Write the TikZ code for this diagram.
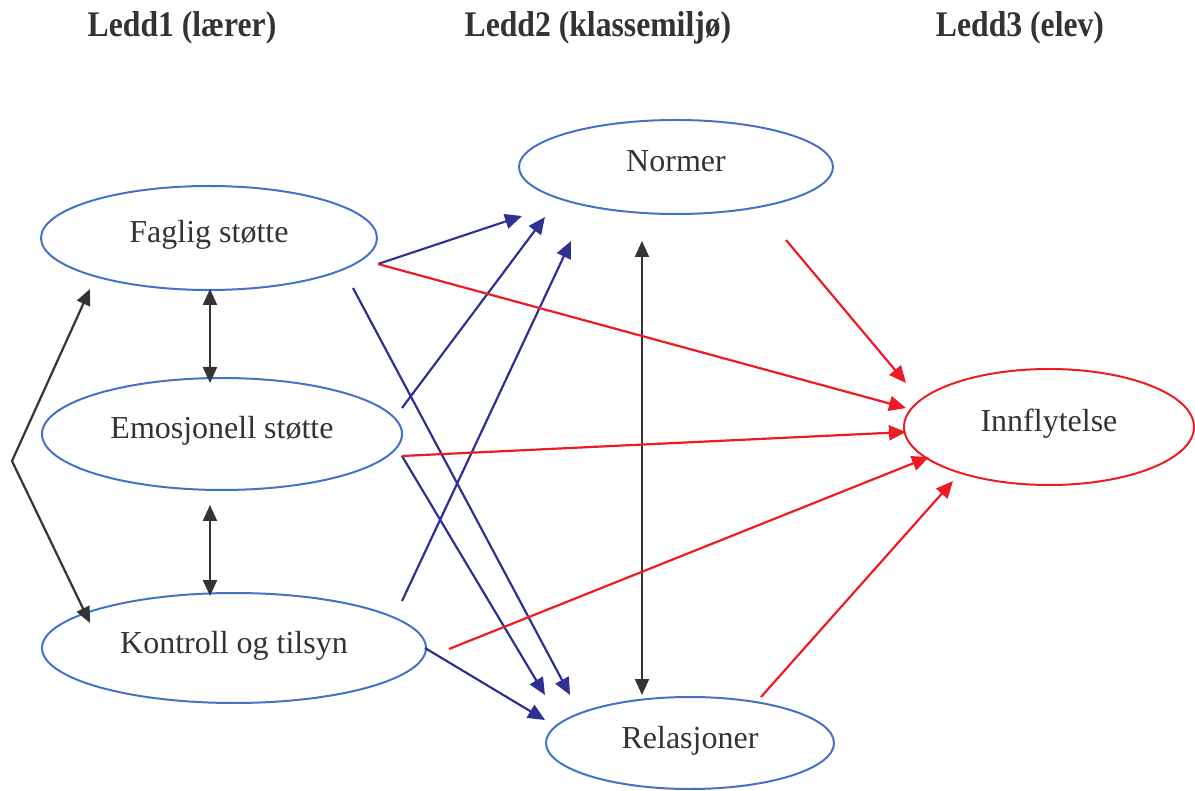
\documentclass[tikz,border=0pt]{standalone}
\usepackage{fontspec}
\setmainfont{Liberation Serif}
\newfontfamily\headfont[FakeStretch=0.88]{Liberation Serif}
\usetikzlibrary{arrows.meta,shapes.geometric}

\definecolor{ovalblue}{RGB}{68,114,196}
\definecolor{navyline}{RGB}{46,49,146}
\definecolor{redline}{RGB}{237,28,36}
\definecolor{darkline}{RGB}{51,51,56}
\definecolor{txtgray}{RGB}{51,51,51}

\tikzset{
  oval/.style={ellipse, draw=ovalblue, line width=2pt, inner sep=0pt,
    text height=20pt, text depth=10pt,
    font=\fontsize{32}{38}\selectfont, text=txtgray},
  header/.style={font=\headfont\bfseries\fontsize{36}{42}\selectfont, text=txtgray},
  navyarrow/.style={draw=navyline, line width=2.2pt, -{Triangle[length=17pt,width=15pt]}},
  redarrow/.style={draw=redline, line width=2.2pt, -{Triangle[length=17pt,width=15pt]}},
  twoway/.style={draw=darkline, line width=2.2pt, {Triangle[length=16pt,width=14pt]}-{Triangle[length=16pt,width=14pt]}}
}

\begin{document}
\begin{tikzpicture}[x=1pt,y=-1pt]
\path[use as bounding box] (0,0) rectangle (1195,791);

% column headings
\node[header] (h1) at (182,28) {Ledd1 (lærer)};
\node[header] (h2) at (598,28) {Ledd2 (klassemiljø)};
\node[header] (h3) at (1020,28) {Ledd3 (elev)};

% teacher factors
\node[oval, minimum width=336pt, minimum height=104pt] (fag) at (209,238) {Faglig støtte};
\node[oval, minimum width=360pt, minimum height=112pt] (emo) at (222,434) {Emosjonell støtte};
\node[oval, minimum width=384pt, minimum height=110pt] (kon) at (234,648) {Kontroll og tilsyn};

% class environment
\node[oval, minimum width=314pt, minimum height=94pt] (nor) at (676,167) {Normer};
\node[oval, minimum width=288pt, minimum height=92pt] (rel) at (690,743) {Relasjoner};

% student outcome
\node[oval, draw=redline, minimum width=290pt, minimum height=116pt] (inn) at (1049,427) {Innflytelse};

% connector end points
\coordinate (fagA) at (378,264);
\coordinate (fagB) at (353,288);
\coordinate (fagUp) at (210,289);
\coordinate (fagSide) at (90,289);
\coordinate (emoA) at (402,408);
\coordinate (emoB) at (402,456);
\coordinate (emoTop) at (210,383);
\coordinate (emoBot) at (210,505);
\coordinate (konA) at (402,601);
\coordinate (konB) at (425,648);
\coordinate (konC) at (449,649);
\coordinate (konTop) at (210,596);
\coordinate (konSide) at (90,623);
\coordinate (bend) at (12,461);
\coordinate (norIn1) at (522,216);
\coordinate (norIn2) at (545,217);
\coordinate (norIn3) at (571,241);
\coordinate (norDown) at (642,241);
\coordinate (norOut) at (786,240);
\coordinate (relIn1) at (545,695);
\coordinate (relIn2) at (570,695);
\coordinate (relIn3) at (545,720);
\coordinate (relUp) at (642,695);
\coordinate (relOut) at (761,697);
\coordinate (innIn1) at (906,383);
\coordinate (innIn2) at (906,408);
\coordinate (innIn3) at (906,432);
\coordinate (innIn4) at (929,457);
\coordinate (innIn5) at (953,481);

% links between teacher factors
\draw[twoway] (fagUp) -- (emoTop);
\draw[twoway] (emoBot) -- (konTop);
\draw[twoway] (fagSide) -- (bend) -- (konSide);
\draw[twoway] (norDown) -- (relUp);

% teacher -> class environment
\draw[navyarrow] (fagA) -- (norIn1);
\draw[navyarrow] (fagB) -- (relIn2);
\draw[navyarrow] (emoA) -- (norIn2);
\draw[navyarrow] (emoB) -- (relIn1);
\draw[navyarrow] (konA) -- (norIn3);
\draw[navyarrow] (konB) -- (relIn3);

% effects on the student
\draw[redarrow] (fagA) -- (innIn2);
\draw[redarrow] (norOut) -- (innIn1);
\draw[redarrow] (emoB) -- (innIn3);
\draw[redarrow] (konC) -- (innIn4);
\draw[redarrow] (relOut) -- (innIn5);
\end{tikzpicture}
\end{document}
